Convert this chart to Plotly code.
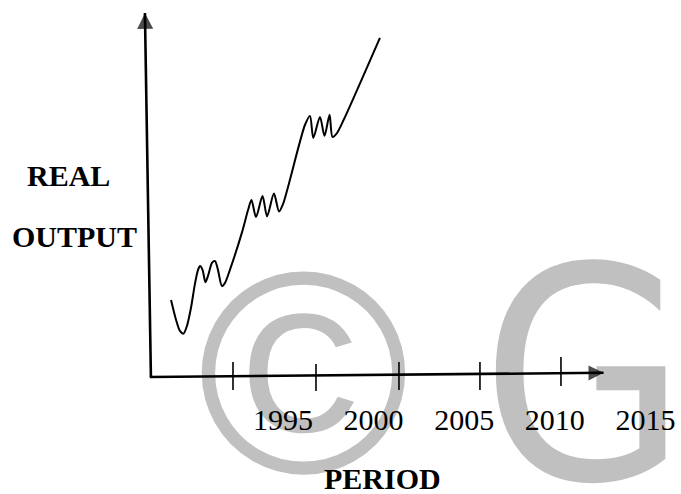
import plotly.graph_objects as go

# ---------------- data ----------------
curve_year = [1988.82, 1989.10, 1989.32, 1989.51, 1989.70, 1989.92, 1990.14, 1990.31,
              1990.42, 1990.56, 1990.72, 1990.89, 1991.08, 1991.25, 1991.41, 1991.63,
              1991.80, 1992.07, 1992.74, 1993.07, 1993.26, 1993.51, 1993.87, 1994.12,
              1994.50, 1994.78, 1995.00, 1996.21, 1996.49, 1996.67, 1997.04, 1997.29,
              1997.57, 1997.73, 1997.98, 1998.37, 2000.35]
curve_output = [22.0, 16.3, 13.1, 12.4, 14.6, 19.7, 26.6, 30.6,
                31.7, 30.6, 27.1, 29.4, 32.6, 33.1, 30.6, 26.0,
                26.9, 30.6, 41.4, 47.7, 50.6, 45.7, 51.7, 45.9,
                52.4, 47.3, 49.4, 72.0, 74.6, 68.3, 74.3, 68.9,
                74.9, 68.6, 69.7, 73.7, 96.9]

tick_years = [1995, 2000, 2005, 2010, 2015]
tick_labels = ["1995", "2000", "2005", "2010", "2015"]

# hand-drawn tick marks on the time axis
mark_years = [1992.24, 1996.82, 2001.40, 2005.87, 2010.34]
mark_high = [4.3, 3.7, 4.3, 4.3, 5.7]
mark_low = [-3.7, -4.0, -3.7, -3.7, -2.6]

# hand-drawn axes (start -> arrow tip)
yaxis_year = [1987.71, 1987.38]
yaxis_val = [0.0, 104.0]
xaxis_year = [1987.65, 2012.69]
xaxis_val = [0.0, 1.2]

# ---------------- layout geometry ----------------
W, H = 681, 494
MB = 95                      # bottom margin (tick labels live there)
PH = H - MB                  # plot-area height in px
X0, XPX = 2005.0, 464.2      # year 2005 sits at this pixel
XS = 18.12                   # px per year
Y0PX, YS = 377.0, 3.5        # output 0 at this pixel row, px per unit


def px2x(px):
    return X0 + (px - XPX) / XS


def py2y(py):
    return (Y0PX - py) / YS


def pxpaper(px):
    return px / W


def pypaper(py):
    return (PH - py) / PH


serif = "Liberation Serif, Times New Roman, serif"
sans = "Liberation Sans, Arial, sans-serif"
cond = "DejaVu Sans Condensed, Liberation Sans Narrow, Liberation Sans, sans-serif"
wm = "#c0c0c0"

fig = go.Figure()

# watermark (behind everything); text hangs below its anchor point
fig.add_trace(go.Scatter(
    x=[px2x(303.5), px2x(584)], y=[py2y(256.5), py2y(257)],
    mode="text", text=["©", "G"],
    textposition="bottom center",
    textfont=dict(family=[sans, cond], size=[288, 296], color=wm),
    cliponaxis=False, hoverinfo="skip", showlegend=False))

# tick marks
tx, ty = [], []
for yr, lo, hi in zip(mark_years, mark_low, mark_high):
    tx += [yr, yr, None]
    ty += [hi, lo, None]
fig.add_trace(go.Scatter(x=tx, y=ty, mode="lines",
                         line=dict(color="black", width=1.6),
                         hoverinfo="skip", showlegend=False))

# axes with arrowheads
fig.add_trace(go.Scatter(x=yaxis_year, y=yaxis_val, mode="lines+markers",
                         line=dict(color="black", width=2.6),
                         marker=dict(symbol="arrow-up", size=[0, 16], angle=-0.9,
                                     color="black", line=dict(width=0)),
                         hoverinfo="skip", showlegend=False))
fig.add_trace(go.Scatter(x=xaxis_year, y=xaxis_val, mode="lines+markers",
                         line=dict(color="black", width=2.6),
                         marker=dict(symbol="arrow-right", size=[0, 15], angle=-0.5,
                                     color="black", line=dict(width=0)),
                         hoverinfo="skip", showlegend=False))

# real output curve
fig.add_trace(go.Scatter(x=curve_year, y=curve_output, mode="lines",
                         line=dict(color="black", width=2, shape="spline", smoothing=0.8),
                         hoverinfo="skip", showlegend=False))


def label(text, px, py):
    return dict(text=text, x=pxpaper(px), y=pypaper(py), xref="paper", yref="paper",
                xanchor="center", yanchor="middle", showarrow=False,
                font=dict(family=serif, size=30, color="black"))


fig.update_layout(
    width=W, height=H,
    margin=dict(l=0, r=0, t=0, b=MB),
    paper_bgcolor="white", plot_bgcolor="white",
    xaxis=dict(range=[px2x(0), px2x(W)], tickvals=tick_years, ticktext=tick_labels,
               ticks="", showline=False, showgrid=False, zeroline=False, automargin=False,
               tickfont=dict(family=serif, size=30, color="black")),
    yaxis=dict(range=[py2y(PH), py2y(0)], visible=False),
    annotations=[
        label("<b>REAL</b>", 68, 175),
        label("<b>OUTPUT</b>", 74, 236),
        label("<b>PERIOD</b>", 382, 478),
    ],
)

fig.write_html("out.html", config={"displayModeBar": False},
               post_script="document.body.style.margin='0px';")
